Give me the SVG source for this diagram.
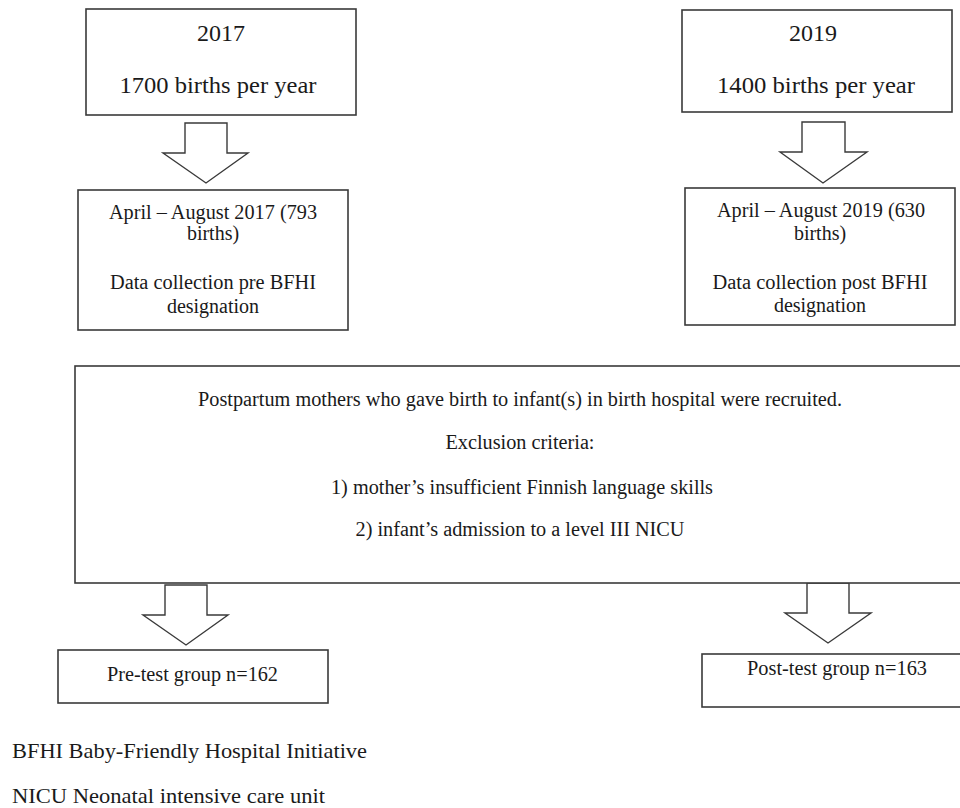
<svg xmlns="http://www.w3.org/2000/svg" width="960" height="808" viewBox="0 0 960 808">
<style>
.box{fill:#fff;stroke:#3a3a3a;stroke-width:1.6}
.arr{fill:#fff;stroke:#3a3a3a;stroke-width:1.4;stroke-linejoin:miter}
text{font-family:"Liberation Serif","Times New Roman",serif;fill:#1a1a1a;text-anchor:middle}
.t24{font-size:24px}
.t20{font-size:20px}
.fn{font-size:22px;text-anchor:start}
</style>
<rect width="960" height="808" fill="#fff"/>
<g id="connectors">
<polygon class="arr" points="185,123 227,123 227,153 248,153 206,183 163,153 185,153"/>
<polygon class="arr" points="802,122 845,122 845,152 867,152 823,183 780,152 802,152"/>
<polygon class="arr" points="165,585 207,585 207,615 228,615 186,645 143,615 165,615"/>
<polygon class="arr" points="807,583 849,583 849,613 871,613 828,643 785,613 807,613"/>
</g>
<g id="n2017">
<rect class="box" x="86" y="9" width="270" height="106"/>
<text class="t24" x="221" y="41">2017</text>
<text class="t24" x="218" y="93" textLength="197" lengthAdjust="spacingAndGlyphs">1700 births per year</text>
</g>
<g id="n2019">
<rect class="box" x="682" y="10" width="270" height="102"/>
<text class="t24" x="813" y="41">2019</text>
<text class="t24" x="816" y="93" textLength="198" lengthAdjust="spacingAndGlyphs">1400 births per year</text>
</g>
<g id="pre">
<rect class="box" x="78" y="190" width="270" height="140"/>
<text class="t20" x="213" y="219" textLength="208" lengthAdjust="spacingAndGlyphs">April – August 2017 (793</text>
<text class="t20" x="213" y="240">births)</text>
<text class="t20" x="213" y="289" textLength="206" lengthAdjust="spacingAndGlyphs">Data collection pre BFHI</text>
<text class="t20" x="213" y="313">designation</text>
</g>
<g id="post">
<rect class="box" x="685" y="188" width="270" height="137"/>
<text class="t20" x="821" y="217" textLength="208" lengthAdjust="spacingAndGlyphs">April – August 2019 (630</text>
<text class="t20" x="820" y="240">births)</text>
<text class="t20" x="820" y="289" textLength="215" lengthAdjust="spacingAndGlyphs">Data collection post BFHI</text>
<text class="t20" x="820" y="312">designation</text>
</g>
<g id="recruit">
<rect class="box" x="75" y="366" width="892" height="217"/>
<text class="t20" x="520" y="406" textLength="644" lengthAdjust="spacingAndGlyphs">Postpartum mothers who gave birth to infant(s) in birth hospital were recruited.</text>
<text class="t20" x="520" y="449" textLength="149" lengthAdjust="spacingAndGlyphs">Exclusion criteria:</text>
<text class="t20" x="522" y="494" textLength="382" lengthAdjust="spacingAndGlyphs">1) mother’s insufficient Finnish language skills</text>
<text class="t20" x="520" y="536" textLength="329" lengthAdjust="spacingAndGlyphs">2) infant’s admission to a level III NICU</text>
</g>
<g id="pretest">
<rect class="box" x="58" y="650" width="270" height="53"/>
<text class="t20" x="192.5" y="681" textLength="171" lengthAdjust="spacingAndGlyphs">Pre-test group n=162</text>
</g>
<g id="posttest">
<rect class="box" x="702" y="654" width="265" height="53"/>
<text class="t20" x="837" y="675" textLength="180" lengthAdjust="spacingAndGlyphs">Post-test group n=163</text>
</g>
<g id="footnotes">
<text class="fn" x="12" y="758" textLength="355" lengthAdjust="spacingAndGlyphs">BFHI Baby-Friendly Hospital Initiative</text>
<text class="fn" x="12" y="803" textLength="313" lengthAdjust="spacingAndGlyphs">NICU Neonatal intensive care unit</text>
</g>
</svg>
